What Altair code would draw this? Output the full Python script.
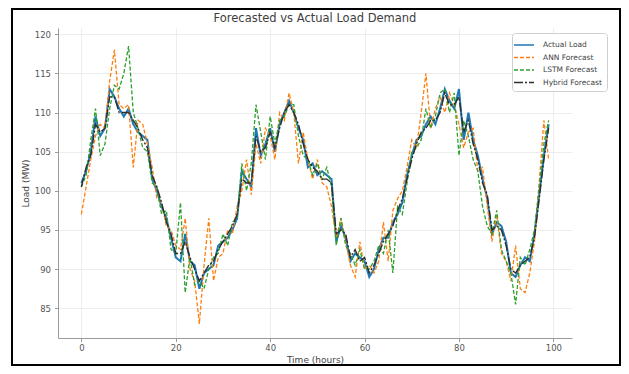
import altair as alt
import pandas as pd

hours = list(range(100))

actual = [
    101.0, 102.5, 105.0, 109.5, 107.0, 108.0, 113.0, 112.0, 110.5, 109.5,
    110.5, 108.5, 107.5, 107.0, 106.5, 101.5, 100.0, 98.0, 96.5, 94.0,
    91.5, 91.0, 94.5, 91.0, 90.5, 87.5, 89.5, 90.0, 90.5, 93.0,
    93.5, 94.0, 95.0, 96.5, 102.5, 101.5, 100.5, 108.0, 104.5, 106.0,
    108.0, 105.0, 108.5, 110.0, 111.5, 110.0, 108.0, 106.5, 103.0, 103.5,
    102.0, 102.5, 102.0, 101.5, 93.5, 95.5, 94.0, 91.0, 92.0, 91.5,
    91.0, 89.0, 90.0, 92.5, 94.0, 94.0, 96.0, 97.0, 98.5, 102.0,
    104.5, 106.5, 107.0, 108.5, 109.5, 108.5, 110.5, 113.0, 111.5, 110.5,
    113.0, 106.5, 110.0, 106.5, 104.5, 101.5, 99.0, 94.5, 96.0, 95.5,
    93.5, 89.5, 89.0, 90.5, 91.5, 91.0, 94.5, 99.5, 104.5, 108.5,
]

ann = [
    97.0, 100.5, 104.0, 107.0, 108.5, 108.0, 114.0, 118.0, 111.0, 110.5,
    111.0, 103.0, 109.0, 108.5, 106.0, 103.0, 99.0, 98.5, 95.5, 95.0,
    93.0, 92.5, 96.5, 90.0, 88.5, 83.0, 90.5, 96.5, 88.5, 91.5,
    92.0, 95.0, 94.5, 98.0, 100.0, 104.0, 99.5, 106.0, 103.5, 108.0,
    107.0, 104.0, 110.0, 109.0, 112.5, 110.0, 103.5, 107.5, 104.0, 101.5,
    104.0, 101.0, 100.5, 98.0, 94.0, 96.5, 93.5, 90.5, 89.0, 93.5,
    90.0, 90.5, 89.5, 91.0, 96.0, 91.0, 97.5, 99.0, 100.0, 103.0,
    106.5, 105.5, 110.0, 115.0, 108.0, 110.5, 112.0, 110.0, 112.5, 111.0,
    108.5, 105.5, 107.5, 108.0, 102.5, 103.0, 98.0, 93.5, 97.0, 92.0,
    91.0, 88.5, 93.0, 87.5, 87.0, 89.5, 93.5, 101.0, 109.0, 104.0,
]

lstm = [
    100.5, 102.0, 106.5, 110.5, 104.5, 106.0, 110.5, 113.5, 113.0, 115.0,
    118.5, 110.0, 108.0, 105.5, 105.0, 101.0, 100.5, 97.0, 97.5, 92.5,
    92.0, 98.5, 87.0, 91.5, 88.0, 88.5, 87.5, 90.0, 91.5, 92.0,
    94.5, 93.0, 96.0, 96.5, 103.5, 100.0, 103.5, 111.0, 107.5, 104.0,
    109.5, 106.0, 109.0, 109.5, 111.0, 111.0, 107.0, 104.5, 104.0, 102.0,
    103.5, 101.5, 103.0, 100.5, 93.0, 96.5, 93.0, 92.0, 90.5, 92.5,
    90.0, 90.0, 91.0, 93.0, 92.0, 95.0, 89.5, 98.0, 97.0, 101.0,
    105.0, 105.5, 106.5, 110.5, 108.0, 109.5, 112.5, 113.0, 110.0, 112.5,
    104.5, 109.0, 107.0, 104.0, 102.5, 98.0, 95.5, 94.5, 97.5, 92.5,
    91.0, 89.5, 85.5, 91.5, 90.5, 92.5, 95.0, 100.5, 106.0, 109.0,
]

hybrid = [
    100.5, 103.0, 104.5, 108.5, 107.5, 108.0, 112.0, 112.0, 110.0, 110.0,
    110.0, 109.0, 108.0, 106.5, 105.5, 102.0, 100.5, 98.5, 96.0, 94.5,
    92.0, 92.0, 93.5, 91.5, 90.0, 88.5, 89.5, 90.5, 91.0, 92.5,
    93.5, 94.5, 95.5, 97.0, 101.5, 101.0, 101.0, 107.0, 105.0, 105.5,
    107.5, 105.5, 108.0, 110.0, 111.0, 110.0, 108.5, 106.0, 104.0, 103.0,
    102.5, 101.5, 101.5, 101.0, 94.5, 95.0, 94.5, 91.5, 92.5, 91.0,
    91.5, 89.5, 90.5, 92.0, 93.5, 94.5, 95.5, 97.5, 99.0, 101.5,
    104.0, 106.0, 107.5, 108.0, 109.0, 109.0, 110.0, 112.5, 111.0, 111.0,
    112.0, 107.5, 109.0, 106.0, 104.0, 101.0, 99.5, 95.0, 95.5, 95.0,
    93.0, 90.0, 89.5, 90.5, 91.0, 91.5, 94.0, 99.0, 104.0, 108.0,
]

series_names = ["Actual Load", "ANN Forecast", "LSTM Forecast", "Hybrid Forecast"]
series_values = [actual, ann, lstm, hybrid]
series_colors = ["#1f77b4", "#ff7f0e", "#2ca02c", "#2e2e2e"]
series_dashes = [[1, 0], [4, 2], [4, 2], [9, 2, 2, 2]]
series_widths = [2.0, 1.3, 1.3, 1.4]

x_ticks = [0, 20, 40, 60, 80, 100]
y_ticks = [85, 90, 95, 100, 105, 110, 115, 120]

frames = []
for name, vals in zip(series_names, series_values):
    frames.append(pd.DataFrame({"hour": hours, "load": vals, "series": name}))
df = pd.concat(frames, ignore_index=True)

FONT = "DejaVu Sans"

x_enc = alt.X(
    "hour:Q",
    scale=alt.Scale(domain=[-4.95, 103.95], nice=False, zero=False),
    axis=alt.Axis(
        values=x_ticks, title="Time (hours)", grid=True, format="d",
        labelPadding=2, titlePadding=3,
    ),
)
y_enc = alt.Y(
    "load:Q",
    scale=alt.Scale(domain=[81.2, 120.8], nice=False, zero=False),
    axis=alt.Axis(
        values=y_ticks, title="Load (MW)", grid=True, format="d",
        labelPadding=4, titlePadding=4,
    ),
)

legend_props = dict(
    title=None, orient="none", legendX=454, legendY=5,
    fillColor="white", strokeColor="#cfcfcf", cornerRadius=3, padding=5,
    labelFont=FONT, labelFontSize=7.5, labelColor="#444",
    symbolType="M-1.6,0H1.6", symbolSize=156, symbolStrokeWidth=1.5,
    rowPadding=1.5, labelOffset=12,
)

color_enc = alt.Color(
    "series:N",
    scale=alt.Scale(domain=series_names, range=series_colors),
    legend=alt.Legend(**legend_props),
)
dash_enc = alt.StrokeDash(
    "series:N",
    scale=alt.Scale(domain=series_names, range=series_dashes),
    legend=alt.Legend(**legend_props),
)

layers = []
for name, w in zip(series_names, series_widths):
    layers.append(
        alt.Chart(df[df["series"] == name])
        .mark_line(strokeWidth=w, clip=True)
        .encode(x=x_enc, y=y_enc, color=color_enc, strokeDash=dash_enc)
    )

frame = (
    alt.Chart(alt.Data(values=[{"k": 1}]))
    .mark_rect(filled=False, stroke="black", strokeWidth=2, clip=False)
    .encode(x=alt.value(-46), x2=alt.value(562), y=alt.value(-19), y2=alt.value(337))
)

chart = (
    alt.layer(*layers, frame)
    .properties(
        width=514,
        height=310,
        title=alt.TitleParams(
            "Forecasted vs Actual Load Demand",
            font=FONT, fontSize=11.5, fontWeight="normal", color="#404040",
            anchor="middle", offset=-16,
        ),
        padding={"left": 50, "top": 20, "right": 49, "bottom": 28},
        autosize=alt.AutoSizeParams(type="none"),
        background="white",
    )
    .configure_view(stroke=None)
    .configure_axis(
        labelFont=FONT, titleFont=FONT, labelFontSize=8.5, titleFontSize=9,
        labelColor="#555", titleColor="#444", titleFontWeight="normal",
        domainColor="#9a9a9a", tickColor="#9a9a9a", tickSize=3.5,
        gridColor="#e8e8e8", gridWidth=0.8,
    )
)

chart.save("out.html", embed_options={"renderer": "svg", "actions": False})
